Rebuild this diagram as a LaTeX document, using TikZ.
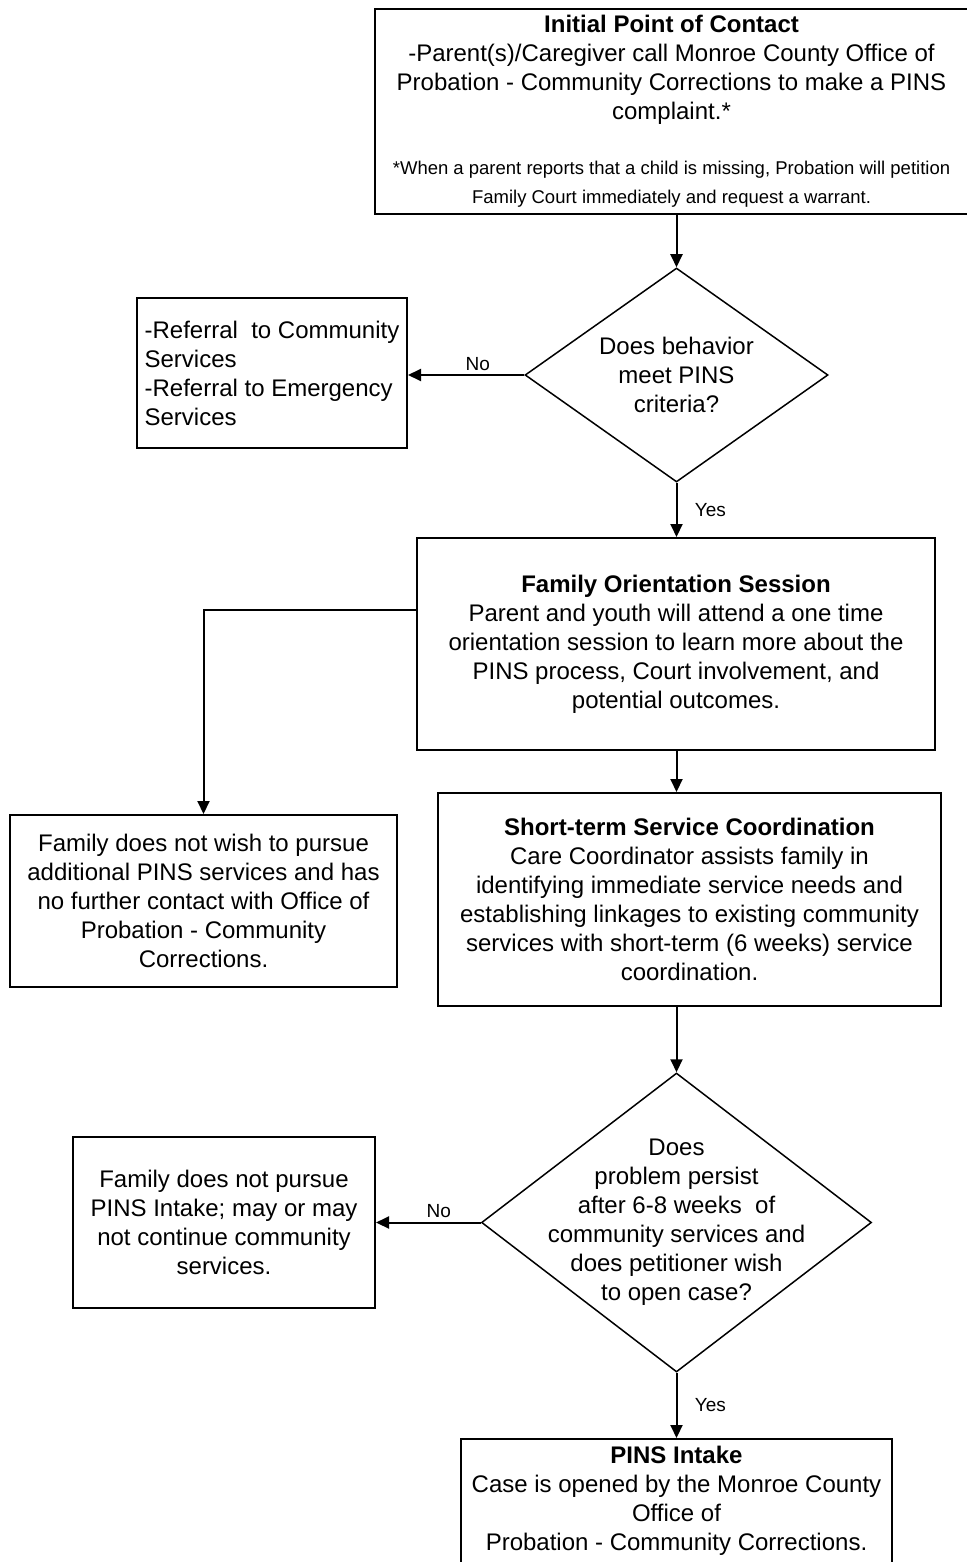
\documentclass[tikz,border=0pt]{standalone}
\usepackage{fontspec}
\setmainfont{Liberation Sans}
\usetikzlibrary{shapes.geometric,arrows.meta}

\begin{document}
\begin{tikzpicture}[x=1pt,y=-1pt]
            \tikzstyle{box}=[draw,line width=2pt,rectangle,align=center,inner sep=0pt,font=\fontsize{24}{29}\selectfont]
            \tikzstyle{decision}=[draw,line width=1.5pt,diamond,inner sep=0pt]
            \tikzstyle{dtext}=[align=center,inner sep=0pt,font=\fontsize{24}{29}\selectfont]
            \tikzstyle{arrow}=[line width=2pt,-{Triangle[length=13pt,width=12pt]}]
            \tikzstyle{answer}=[font=\fontsize{19}{21}\selectfont]
            \useasboundingbox (0,0) rectangle (966,1562);
            \node[box,minimum width=593,minimum height=205] (contact) at (671.5,111.5)
                {\textbf{Initial Point of Contact}\\
                 -Parent(s)/Caregiver call Monroe County Office of\\
                 Probation - Community Corrections to make a PINS\\
                 complaint.*\\[26pt]
                 {\fontsize{18.5}{28}\selectfont *When a parent reports that a child is missing, Probation will petition}\\
                 {\fontsize{18.5}{28}\selectfont Family Court immediately and request a warrant.}};
            \node[decision,minimum width=303,minimum height=214] (q1) at (676.5,375) {};
            \node[dtext] (q1text) at (q1) {Does behavior\\ meet PINS\\ criteria?};
            \node[box,align=left,minimum width=270,minimum height=150] (referral) at (272,373)
                {-Referral\ \ to Community\\ Services\\ -Referral to Emergency\\ Services};
            \node[box,minimum width=518,minimum height=212] (orient) at (676,644)
                {\textbf{Family Orientation Session}\\
                 Parent and youth will attend a one time\\
                 orientation session to learn more about the\\
                 PINS process, Court involvement, and\\
                 potential outcomes.};
            \node[box,minimum width=387,minimum height=172] (notwish) at (203.5,901)
                {Family does not wish to pursue\\
                 additional PINS services and has\\
                 no further contact with Office of\\
                 Probation - Community\\
                 Corrections.};
            \node[box,minimum width=503,minimum height=213] (short) at (689.5,899.5)
                {\textbf{Short-term Service Coordination}\\
                 Care Coordinator assists family in\\
                 identifying immediate service needs and\\
                 establishing linkages to existing community\\
                 services with short-term (6 weeks) service\\
                 coordination.};
            \node[decision,minimum width=390,minimum height=299] (q2) at (676.5,1222.5) {};
            \node[dtext] (q2text) at (q2) {Does\\ problem persist\\ after 6-8 weeks\ \ of\\ community services and\\ does petitioner wish\\ to open case?};
            \node[box,minimum width=302,minimum height=171] (notpursue) at (224,1222.5)
                {Family does not pursue\\ PINS Intake; may or may\\ not continue community\\ services.};
            \node[box,minimum width=431,minimum height=124] (intake) at (676.5,1501)
                {\textbf{PINS Intake}\\
                 Case is opened by the Monroe County\\
                 Office of\\
                 Probation - Community Corrections.};
            \draw[arrow] (contact.south -| q1.north) -- (q1.north);
            \draw[arrow] (q1.west) -- node[answer,above,pos=0.4]{No} (q1.west -| referral.east);
            \draw[arrow] (q1.south) -- node[answer,right,xshift=14pt]{Yes} (q1.south |- orient.north);
            \draw[arrow] ([yshift=34pt]orient.west) -| (notwish.north);
            \draw[arrow] (q1.south |- orient.south) -- (q1.south |- short.north);
            \draw[arrow] (q1.south |- short.south) -- (q2.north);
            \draw[arrow] (q2.west) -- node[answer,above,pos=0.4]{No} (q2.west -| notpursue.east);
            \draw[arrow] (q2.south) -- node[answer,right,xshift=14pt]{Yes} (intake.north);
        \end{tikzpicture}
\end{document}
